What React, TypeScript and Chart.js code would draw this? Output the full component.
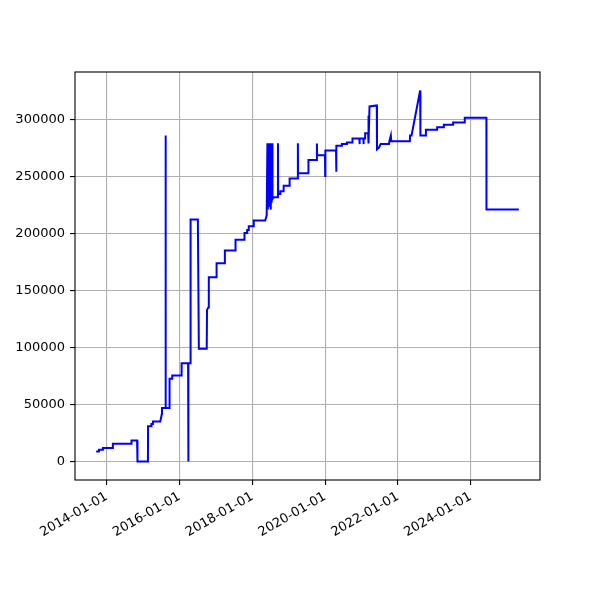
import React, { useEffect, useRef } from 'react';
import { Chart, registerables } from 'chart.js';

Chart.register(...registerables);

// ---- data ----
const dates2013to2015 = [
  '2013-09-16', '2013-10-13', '2013-10-14', '2013-11-22', '2013-11-23', '2014-03-02', '2014-03-03',
  '2014-09-05', '2014-09-06', '2014-11-01', '2014-11-03', '2014-11-05', '2014-11-07', '2015-02-18',
  '2015-02-19', '2015-03-24', '2015-03-25', '2015-04-09', '2015-04-10', '2015-06-22', '2015-07-08',
  '2015-07-09', '2015-08-12', '2015-08-14', '2015-08-16', '2015-09-22', '2015-09-23', '2015-10-19',
  '2015-10-20', '2016-01-21', '2016-01-22',
];
const values2013to2015 = [
  8800, 8800, 10200, 10200, 11700, 11700, 15500,
  15500, 18400, 18400, 0, 18400, 0, 0,
  31000, 31000, 32800, 32800, 35000, 35000, 41800,
  47000, 47000, 286000, 47000, 47000, 72500, 72500,
  75400, 75400, 86200,
];

const dates2016to2017 = [
  '2016-03-27', '2016-03-29', '2016-03-31', '2016-04-20', '2016-04-21', '2016-07-03', '2016-07-13',
  '2016-09-30', '2016-10-03', '2016-10-15', '2016-10-21', '2017-01-06', '2017-01-07', '2017-03-30',
  '2017-03-31', '2017-07-15', '2017-07-16', '2017-10-13', '2017-10-14', '2017-11-09', '2017-11-10',
  '2017-11-25', '2017-11-26', '2018-01-14', '2018-01-15',
];
const values2016to2017 = [
  86200, 0, 86200, 86200, 212300, 212300, 98900,
  98900, 133000, 135000, 161700, 161700, 174000, 174000,
  185100, 185100, 194500, 194500, 200500, 200500, 203200,
  203200, 206400, 206400, 211400,
];

const dates2018to2019 = [
  '2018-05-10', '2018-05-25', '2018-06-01', '2018-06-05', '2018-06-10', '2018-06-15', '2018-06-20',
  '2018-06-25', '2018-06-30', '2018-07-05', '2018-07-10', '2018-07-14', '2018-07-18', '2018-07-22',
  '2018-08-02', '2018-09-14', '2018-09-15', '2018-09-17', '2018-10-08', '2018-10-09', '2018-11-10',
  '2018-11-11', '2019-01-09', '2019-01-10', '2019-04-02', '2019-04-03', '2019-04-05', '2019-07-17',
  '2019-07-18', '2019-10-09', '2019-10-11', '2019-10-13',
];
const values2018to2019 = [
  211400, 216000, 279200, 221000, 279200, 223000, 279200,
  225000, 279200, 221000, 279200, 227000, 279200, 230400,
  231800, 231800, 279200, 234800, 234800, 237200, 237200,
  242000, 242000, 248400, 248400, 279200, 253000, 253000,
  264600, 264600, 279000, 268800,
];

const dates2020to2021 = [
  '2019-12-31', '2020-01-02', '2020-01-04', '2020-04-20', '2020-04-22', '2020-04-24', '2020-06-17',
  '2020-06-18', '2020-08-06', '2020-08-07', '2020-10-01', '2020-10-02', '2020-12-10', '2020-12-12',
  '2020-12-14', '2021-01-19', '2021-01-21', '2021-01-23', '2021-02-05', '2021-02-06', '2021-03-08',
  '2021-03-10', '2021-03-14', '2021-03-22', '2021-06-03', '2021-06-05', '2021-06-25', '2021-07-12',
  '2021-10-03', '2021-10-08', '2021-10-22', '2021-10-26',
];
const values2020to2021 = [
  268800, 250500, 272800, 272800, 254200, 277000, 277000,
  278500, 278500, 280000, 280000, 283400, 283400, 278500,
  283400, 283400, 278500, 283400, 283400, 288000, 288000,
  303500, 279000, 311600, 312400, 274000, 275500, 278600,
  278600, 281200, 286000, 281000,
];

const dates2022to2025 = [
  '2022-05-01', '2022-05-03', '2022-05-18', '2022-08-12', '2022-08-15', '2022-10-08', '2022-10-09',
  '2023-01-29', '2023-01-30', '2023-04-06', '2023-04-07', '2023-07-08', '2023-07-09', '2023-11-02',
  '2023-11-03', '2024-06-07', '2024-06-08', '2025-04-29',
];
const values2022to2025 = [
  281000, 286000, 286000, 325500, 286000, 286000, 291000,
  291000, 293200, 293200, 295400, 295400, 297500, 297500,
  301700, 301700, 221000, 221000,
];

const xTickDates = ['2014-01-01', '2016-01-01', '2018-01-01', '2020-01-01', '2022-01-01', '2024-01-01'];
const yTickValues = [0, 50000, 100000, 150000, 200000, 250000, 300000];

// ---- helpers ----
const toMs = (s: string) => {
  const [y, m, d] = s.split('-').map(Number);
  return Date.UTC(y, m - 1, d);
};
const fmtDate = (ms: number) => new Date(ms).toISOString().slice(0, 10);

const FONT = { family: 'DejaVu Sans', size: 13 };

const framePlugin = {
  id: 'frame',
  afterDatasetsDraw(chart: any) {
    const { ctx, chartArea } = chart;
    ctx.save();
    ctx.strokeStyle = '#000';
    ctx.lineWidth = 1.1;
    ctx.strokeRect(chartArea.left, chartArea.top, chartArea.right - chartArea.left, chartArea.bottom - chartArea.top);
    ctx.restore();
  },
};

export default function App() {
  const ref = useRef<HTMLCanvasElement>(null);

  useEffect(() => {
    const allDates = [...dates2013to2015, ...dates2016to2017, ...dates2018to2019, ...dates2020to2021, ...dates2022to2025];
    const allValues = [...values2013to2015, ...values2016to2017, ...values2018to2019, ...values2020to2021, ...values2022to2025];
    const points = allDates.map((d, i) => ({ x: toMs(d), y: allValues[i] }));

    const xs = points.map((p) => p.x);
    const ys = points.map((p) => p.y);
    const xMin = Math.min(...xs), xMax = Math.max(...xs);
    const yMin = Math.min(...ys), yMax = Math.max(...ys);
    const xPad = (xMax - xMin) * 0.05;
    const yPad = (yMax - yMin) * 0.05;

    const chart = new Chart(ref.current as HTMLCanvasElement, {
      type: 'line',
      data: {
        datasets: [
          {
            data: points,
            borderColor: '#0000ff',
            borderWidth: 2,
            pointRadius: 0,
            tension: 0,
            fill: false,
          },
        ],
      },
      options: {
        responsive: false,
        animation: false,
        events: [],
        plugins: { legend: { display: false }, tooltip: { enabled: false } },
        layout: { padding: { left: 0, right: 60, top: 72, bottom: 0 } },
        scales: {
          x: {
            type: 'linear',
            min: xMin - xPad,
            max: xMax + xPad,
            afterBuildTicks: (s: any) => {
              s.ticks = xTickDates.map((d) => ({ value: toMs(d) }));
            },
            afterFit: (s: any) => {
              s.height = 120;
            },
            ticks: {
              callback: (v: any) => fmtDate(Number(v)),
              minRotation: 30,
              maxRotation: 30,
              autoSkip: false,
              font: FONT,
              color: '#000',
              padding: 4,
            },
            grid: { color: '#b0b0b0', lineWidth: 1.1, tickColor: '#000', tickLength: 5 },
            border: { display: false },
          },
          y: {
            type: 'linear',
            min: yMin - yPad,
            max: yMax + yPad,
            afterBuildTicks: (s: any) => {
              s.ticks = yTickValues.map((v) => ({ value: v }));
            },
            afterFit: (s: any) => {
              s.width = 75;
            },
            ticks: {
              callback: (v: any) => String(v),
              font: FONT,
              color: '#000',
              padding: 5,
            },
            grid: { color: '#b0b0b0', lineWidth: 1.1, tickColor: '#000', tickLength: 5 },
            border: { display: false },
          },
        },
      },
      plugins: [framePlugin],
    } as any);

    return () => chart.destroy();
  }, []);

  return (
    <canvas
      ref={ref}
      width={600}
      height={600}
      style={{ position: 'absolute', left: 0, top: 0, width: 600, height: 600 }}
    />
  );
}
